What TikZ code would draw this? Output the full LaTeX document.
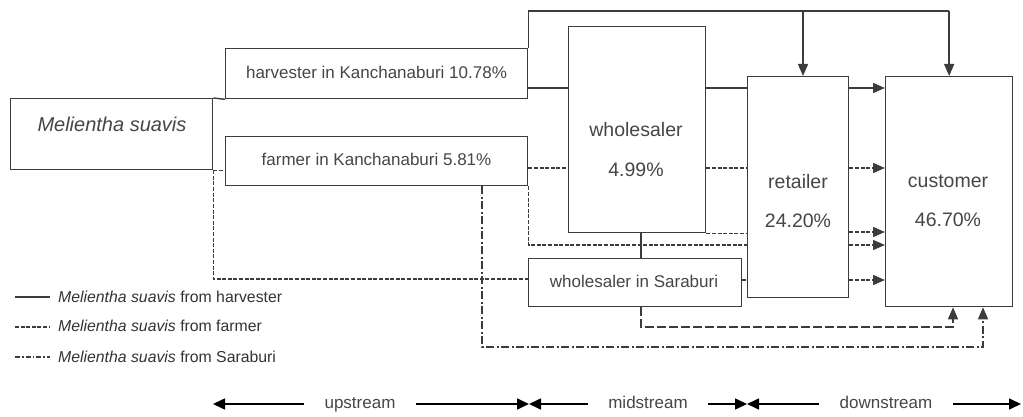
\documentclass[tikz,border=0pt]{standalone}
\usepackage{fontspec}
\setmainfont{Liberation Sans}
\usetikzlibrary{arrows.meta}
\definecolor{txt}{RGB}{70,70,70}
\definecolor{ln}{RGB}{60,60,60}
\begin{document}
\begin{tikzpicture}[x=1pt,y=-1pt,
  box/.style={draw=ln,line width=1.3pt,fill=white,inner sep=0pt,anchor=north west},
  harv/.style={draw=ln,line width=1.4pt},
  farm/.style={draw=ln,line width=1.4pt,dash pattern=on 4pt off 1.6pt},
  sara/.style={draw=ln,line width=1.4pt,dash pattern=on 8pt off 2.5pt on 2pt off 2.5pt},
  longd/.style={draw=ln,line width=1.4pt,dash pattern=on 9pt off 3pt},
  arr/.style={-{Triangle[length=12pt,width=10pt]}},
  tA/.style={text=txt,font=\fontsize{17}{20}\selectfont,anchor=base,inner sep=0pt},
  tB/.style={text=txt,font=\fontsize{19.5}{23}\selectfont,anchor=base,inner sep=0pt},
  tC/.style={text=txt,font=\fontsize{20}{24}\selectfont\itshape,anchor=base,inner sep=0pt},
  tL/.style={text=black!80,font=\fontsize{15.8}{18}\selectfont,anchor=base west,inner sep=0pt},
  tS/.style={text=txt,font=\fontsize{17}{20}\selectfont,inner xsep=20.5pt,inner ysep=0pt,text height=12pt,text depth=4pt},
  bot/.style={draw=black,line width=1.6pt,-{Triangle[length=12pt,width=11pt]}}
]
\useasboundingbox (0,0) rectangle (1023,417);

% boxes
\node[box,minimum width=202pt,minimum height=71pt] (ms) at (10,98) {};
\node[box,minimum width=302pt,minimum height=50pt] (hv) at (225,48) {};
\node[box,minimum width=302pt,minimum height=49pt] (fm) at (225,136) {};
\node[box,minimum width=137pt,minimum height=206pt] (ws) at (568,26) {};
\node[box,minimum width=101pt,minimum height=221pt] (rt) at (747,76) {};
\node[box,minimum width=127pt,minimum height=230pt] (cu) at (885,76) {};
\node[box,minimum width=213pt,minimum height=48pt] (sb) at (528,258) {};

% texts
\node[tC] (msT) at (112,131.7) {Melientha suavis};
\node[tA] (hvT) at (376.5,79) {harvester in Kanchanaburi 10.78\%};
\node[tA] (fmT) at (376.5,166) {farmer in Kanchanaburi 5.81\%};
\node[tB] (wsT1) at (636,137) {wholesaler};
\node[tB] (wsT2) at (636,177) {4.99\%};
\node[tB] (rtT1) at (798,188) {retailer};
\node[tB] (rtT2) at (798,227) {24.20\%};
\node[tB] (cuT1) at (948,187) {customer};
\node[tB] (cuT2) at (948,226) {46.70\%};
\node[tA] (sbT) at (634,287) {wholesaler in Saraburi};

% harvester flows
\draw[harv] (ms.north east) -- (hv.south west);
\draw[harv] (hv.east |- 0,88) -- (ws.west |- 0,88);
\draw[harv] (ws.east |- 0,88) -- (rt.west |- 0,88);
\draw[harv,arr] (rt.east |- 0,88) -- (cu.west |- 0,88);
\draw[harv] (hv.north east) -- (hv.north east |- 0,11) -- (cu.north |- 0,11);
\draw[harv,arr] (803,11) -- (rt.north -| 803,0);
\draw[harv,arr] (cu.north |- 0,11) -- (cu.north);
\draw[harv] (ws.south -| 641,0) -- (sb.north -| 641,0);

% farmer flows
\draw[farm] (ms.south east) -- (fm.west |- ms.south east);
\draw[farm] (ms.south east) -- (ms.south east |- 0,279) -- (sb.west |- 0,279);
\draw[farm] (fm.east |- 0,168) -- (ws.west |- 0,168);
\draw[farm] (ws.east |- 0,168) -- (rt.west |- 0,168);
\draw[farm,arr] (rt.east |- 0,168) -- (cu.west |- 0,168);
\draw[farm] (ws.south east) -- (rt.west |- ws.south east);
\draw[farm,arr] (rt.east |- 0,232) -- (cu.west |- 0,232);
\draw[farm] (fm.south east) -- (fm.south east |- 0,245) -- (rt.west |- 0,245);
\draw[farm,arr] (rt.east |- 0,245) -- (cu.west |- 0,245);
\draw[farm] (sb.east |- 0,280) -- (rt.west |- 0,280);
\draw[farm,arr] (rt.east |- 0,280) -- (cu.west |- 0,280);

% Saraburi / bottom flows
\draw[longd,arr] (sb.south -| 641,0) -- (641,327) -- (953,327) -- (cu.south -| 953,0);
\draw[sara,arr] (fm.south -| 482,0) -- (482,347) -- (983,347) -- (cu.south -| 983,0);

% legend
\coordinate (lg1a) at (15,297); \coordinate (lg1b) at (50,297);
\coordinate (lg2a) at (15,327); \coordinate (lg2b) at (50,327);
\coordinate (lg3a) at (15,357); \coordinate (lg3b) at (50,357);
\draw[harv,line width=1.2pt] (lg1a) -- (lg1b);
\draw[farm,line width=1.2pt] (lg2a) -- (lg2b);
\draw[sara,line width=1.2pt,dash pattern=on 5pt off 2pt on 1.5pt off 2pt] (lg3a) -- (lg3b);
\node[tL] (lg1) at (58,302) {\textit{Melientha suavis} from harvester};
\node[tL] (lg2) at (58,331.5) {\textit{Melientha suavis} from farmer};
\node[tL] (lg3) at (58,362) {\textit{Melientha suavis} from Saraburi};

% stream arrows
\coordinate (b0) at (213,404);
\coordinate (b1) at (529,404);
\coordinate (b2) at (747,404);
\coordinate (b3) at (1021,404);
\node[tS] (up) at (360,404) {upstream};
\node[tS] (mid) at (648,404) {midstream};
\node[tS] (down) at (886,404) {downstream};
\draw[bot] (up.west) -- (b0);
\draw[bot] (up.east) -- (b1);
\draw[bot] (mid.west) -- (b1);
\draw[bot] (mid.east) -- (b2);
\draw[bot] (down.west) -- (b2);
\draw[bot] (down.east) -- (b3);
\end{tikzpicture}
\end{document}
